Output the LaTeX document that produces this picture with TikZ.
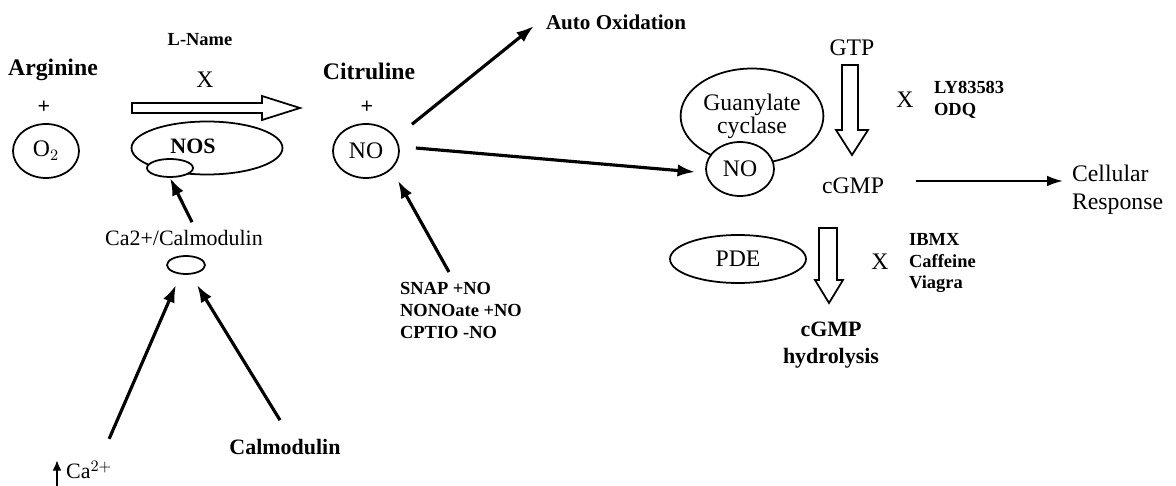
\documentclass[tikz,border=0pt]{standalone}
\usepackage{fontspec}
\setmainfont{Liberation Serif}
\usetikzlibrary{arrows.meta, positioning, calc, shapes.geometric}

\begin{document}
\begin{tikzpicture}[x=0.02cm, y=-0.02cm, >=Latex,
    txt/.style={font=\fontsize{13.5}{16}\selectfont, inner sep=1pt},
    btxt/.style={font=\bfseries\fontsize{12.5}{15}\selectfont, inner sep=1pt},
    sml/.style={font=\bfseries\fontsize{10.5}{12.5}\selectfont, align=left, inner sep=1pt},
    ring/.style={draw, ellipse, line width=1pt, inner sep=0pt},
    thk/.style={line width=1.8pt, -{Latex[length=10pt,width=7pt]}},
    thn/.style={line width=1.2pt, -{Latex[length=9pt,width=6pt]}},
    hollow/.style={draw, line width=1pt, fill=white}]
  \useasboundingbox (0,0) rectangle (1176,486);
  % substrates and products of NOS
  \node[btxt, font=\bfseries\fontsize{13.5}{16}\selectfont] (arg) at (53,70) {Arginine};
  \node[btxt, font=\bfseries\fontsize{13.5}{16}\selectfont] (cit) at (369,71) {Citruline};
  \foreach \px/\nm in {44/plA, 367/plB}{ \node[btxt] (\nm) at (\px,107) {+}; }
  \node[ring, txt, minimum width=1.32cm, minimum height=1.08cm] (o2) at (46,151) {O$_2$};
  \node[ring, txt, minimum width=1.32cm, minimum height=1.08cm] (noA) at (366,151) {NO};
  % NOS enzyme and its inhibitor
  \node[sml] (lname) at (200,40) {L-Name};
  \node[txt] (xA) at (205,80) {X};
  \draw[hollow] (132,103) -- (262,103) -- (262,96) -- (300,108) -- (262,120) -- (262,113) -- (132,113) -- cycle;
  \node[ring, minimum width=3.02cm, minimum height=1.06cm] (nos) at (207,148) {};
  \node[btxt] (nostxt) at (193,146) {NOS};
  \node[ring, fill=white, minimum width=0.92cm, minimum height=0.36cm] (nosb) at (170,168) {};
  % calcium / calmodulin branch
  \node[txt, font=\fontsize{12.5}{15}\selectfont] (cacal) at (184,238) {Ca2+/Calmodulin};
  \node[ring, minimum width=0.76cm, minimum height=0.36cm] (cabl) at (186,265) {};
  \node[btxt] (calm) at (285,447) {Calmodulin};
  \node[txt, anchor=west, font=\fontsize{12.5}{15}\selectfont] (caion) at (64,470) {Ca$^{2+}$};
  \draw[line width=1.2pt, -{Latex[length=6pt,width=5pt]}] ($(caion.west)+(-7,16)$) -- ($(caion.west)+(-7,-10)$);
  \draw[thk] ($(cacal.north)+(8,-6)$) -- (nosb.south);
  \draw[thk] ($(caion.north)+(20,-20)$) -- ($(cabl.south)+(-10,10)$);
  \draw[thk] ($(calm.north)+(-5,-17)$) -- ($(cabl.south)+(11,10)$);
  % fate of NO
  \node[btxt, font=\bfseries\fontsize{12}{14}\selectfont] (autox) at (616,22) {Auto Oxidation};
  \node[sml, anchor=north west] (donor) at (398,280) {SNAP +NO\\NONOate +NO\\CPTIO -NO};
  \draw[thk] ($(noA.north east)+(22,-7)$) -- ($(autox.west)+(-10,4)$);
  \draw[thk] ($(donor.north)+(-12,-8)$) -- ($(noA.south east)+(8,10)$);
  % guanylate cyclase
  \node[ring, txt, align=center, minimum width=2.76cm, minimum height=1.9cm] (gc) at (752,116) {Guanylate\\[-3pt]cyclase};
  \node[ring, txt, fill=white, minimum width=1.36cm, minimum height=1.08cm] (noB) at (740,169) {NO};
  \draw[thk] ($(noA.east)+(16,-3)$) -- ($(noB.west)+(-10,3)$);
  \node[txt] (gtp) at (852,48) {GTP};
  \draw[hollow] (842,65) -- (858,65) -- (858,130) -- (868,130) -- (852,155) -- (836,130) -- (842,130) -- cycle;
  \node[txt] (xB) at (905,100) {X};
  \node[sml, anchor=west] (ly) at (932,100) {LY83583\\ODQ};
  \node[txt] (cgmp) at (853,186) {cGMP};
  \node[txt, anchor=west, align=left] (cell) at (1070,190) {Cellular\\Response};
  \draw[thn] ($(cgmp.east)+(30,-5)$) -- ($(cell.west)+(-7,-9)$);
  % phosphodiesterase
  \node[ring, txt, minimum width=2.72cm, minimum height=0.96cm] (pde) at (738,259) {PDE};
  \draw[hollow] (819,228) -- (837,228) -- (837,280) -- (843,280) -- (829,303) -- (815,280) -- (819,280) -- cycle;
  \node[txt] (xC) at (880,262) {X};
  \node[sml, anchor=west] (ibmx) at (907,263) {IBMX\\Caffeine\\Viagra};
  \node[btxt, align=center] (hyd) at (831,345) {cGMP\\hydrolysis};
\end{tikzpicture}
\end{document}
